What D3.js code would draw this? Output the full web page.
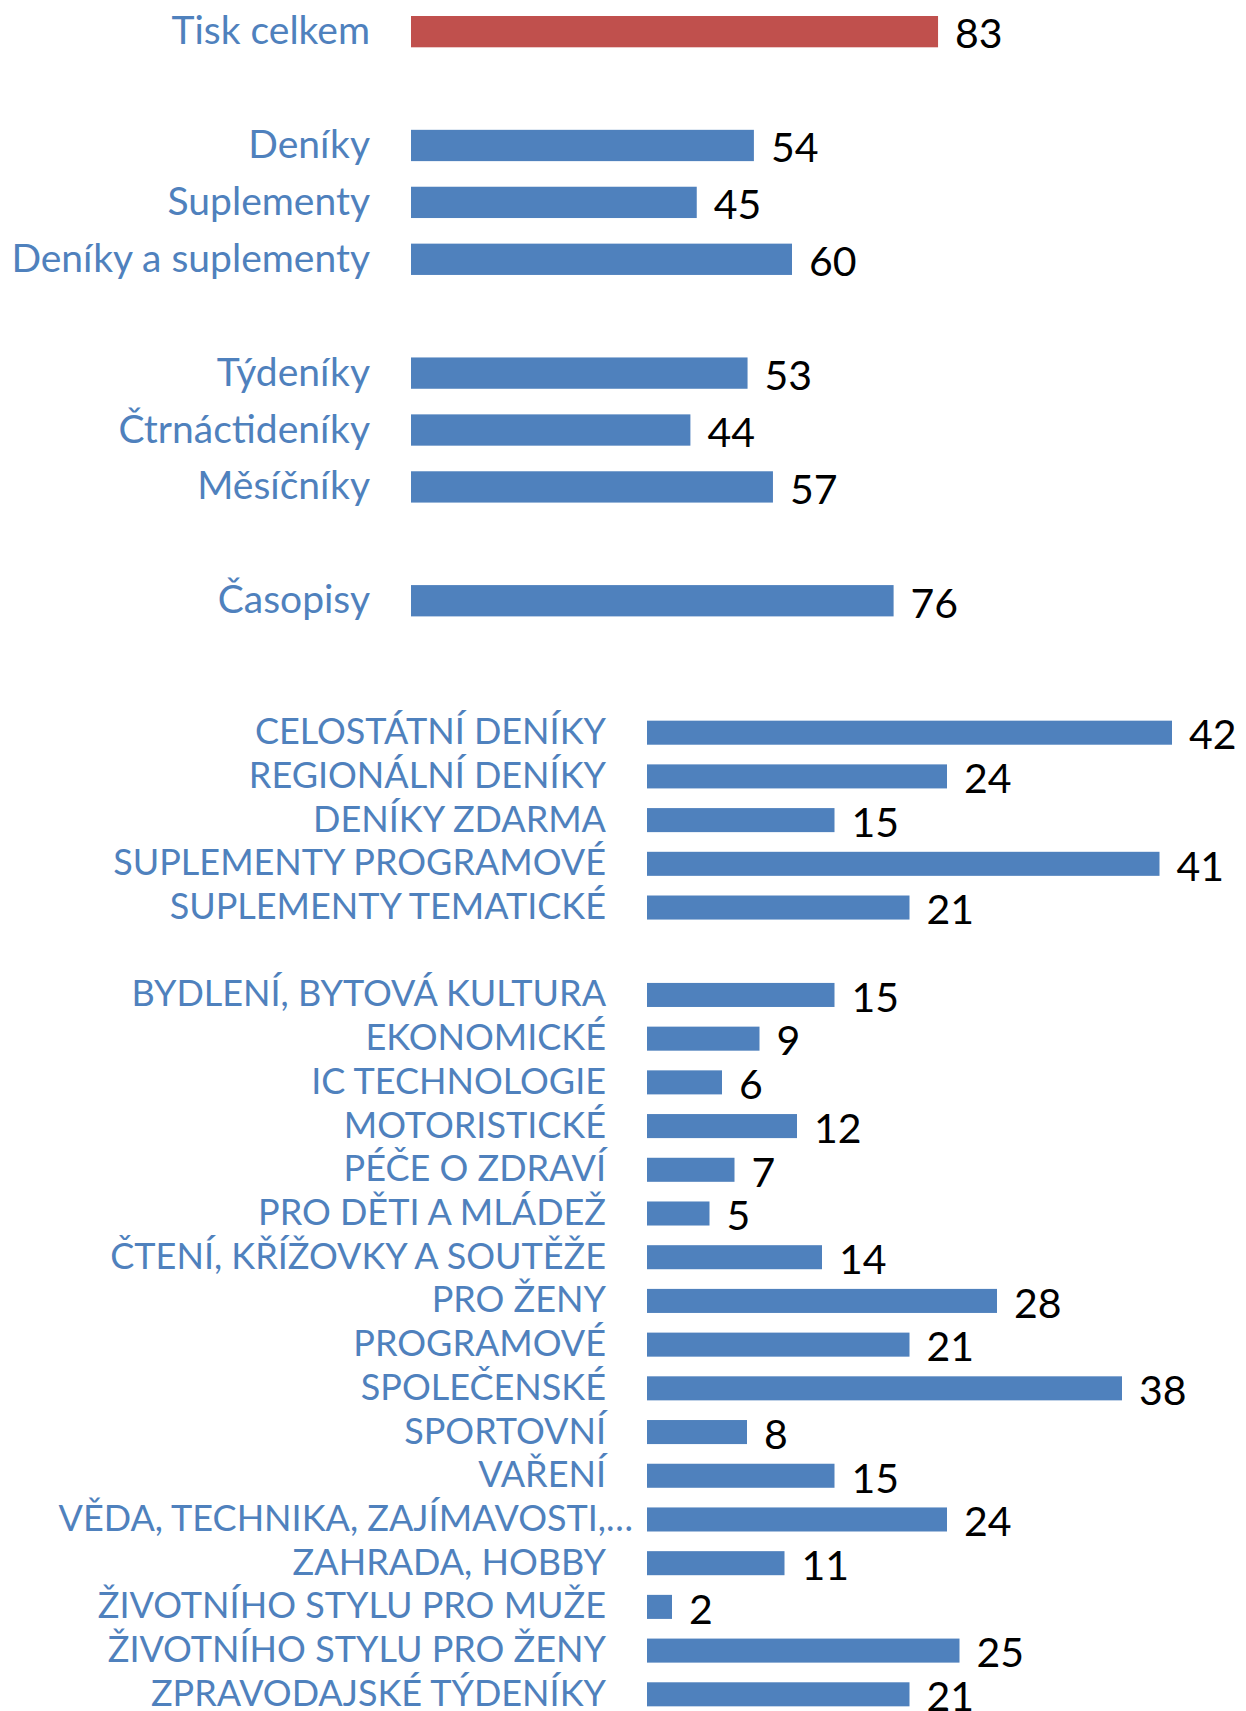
<!DOCTYPE html>
<html>
<head>
<meta charset="utf-8">
<script src="https://cdn.jsdelivr.net/npm/d3@7/dist/d3.min.js"></script>
<style>
  body { margin: 0; background: #fff; }
  .lbl text { font-family: Lato, "Noto Sans", sans-serif; fill: #4F81BD; }
  .val { font-family: Lato, "Noto Sans", sans-serif; fill: #000; }
</style>
</head>
<body>
<svg id="chart" width="1246" height="1711"></svg>
<script>
// top panel (gaps are null)
var topLabels = ["Tisk celkem", "", "Deníky", "Suplementy", "Deníky a suplementy", "",
  "Týdeníky", "Čtrnáctideníky", "Měsíčníky", "", "Časopisy"];
var topValues = [83, null, 54, 45, 60, null, 53, 44, 57, null, 76];

// bottom panel
var bottomLabels = ["CELOSTÁTNÍ DENÍKY", "REGIONÁLNÍ DENÍKY", "DENÍKY ZDARMA",
  "SUPLEMENTY PROGRAMOVÉ", "SUPLEMENTY TEMATICKÉ", "",
  "BYDLENÍ, BYTOVÁ KULTURA", "EKONOMICKÉ", "IC TECHNOLOGIE", "MOTORISTICKÉ",
  "PÉČE O ZDRAVÍ", "PRO DĚTI A MLÁDEŽ", "ČTENÍ, KŘÍŽOVKY A SOUTĚŽE", "PRO ŽENY",
  "PROGRAMOVÉ", "SPOLEČENSKÉ", "SPORTOVNÍ", "VAŘENÍ", "VĚDA, TECHNIKA, ZAJÍMAVOSTI,…",
  "ZAHRADA, HOBBY", "ŽIVOTNÍHO STYLU PRO MUŽE", "ŽIVOTNÍHO STYLU PRO ŽENY",
  "ZPRAVODAJSKÉ TÝDENÍKY"];
var bottomValues = [42, 24, 15, 41, 21, null,
  15, 9, 6, 12, 7, 5, 14, 28, 21, 38, 8, 15, 24, 11, 2, 25, 21];

var blue = "#4F81BD", red = "#C0504D";
var svg = d3.select("#chart");

function panel(labels, values, opt) {
  var idx = d3.range(labels.length);
  var y = d3.scaleBand().domain(idx).range(opt.yRange).padding(0.45);
  var x = d3.scaleLinear().domain(opt.xDomain).range(opt.xRange);

  var g = svg.append("g");

  // category labels through an axis
  var ax = g.append("g").attr("class", "lbl")
    .attr("transform", "translate(" + opt.labelX + ",0)")
    .call(d3.axisLeft(y).tickSize(0).tickPadding(0).tickFormat(function(i){ return labels[i]; }));
  ax.select(".domain").remove();
  ax.selectAll("text").style("font-size", opt.labelSize + "px");
  // truncated label: ellipsis hangs past the label edge
  ax.selectAll(".tick").each(function(i) {
    var s = labels[i];
    if (s.slice(-1) === "…") {
      d3.select(this).select("text").text(s.slice(0, -1));
      d3.select(this).append("text").attr("fill", blue).attr("x", 0).attr("dy", "0.32em")
        .attr("text-anchor", "start").style("font-size", opt.labelSize + "px").text("…");
    }
  });

  var rows = idx.filter(function(i){ return values[i] != null; });

  g.selectAll("rect.bar").data(rows).enter().append("rect")
    .attr("class", "bar")
    .attr("x", x(0))
    .attr("y", function(i){ return y(i); })
    .attr("width", function(i){ return x(values[i]) - x(0); })
    .attr("height", y.bandwidth())
    .attr("fill", function(i){ return opt.highlight === i ? red : blue; });

  g.selectAll("text.val").data(rows).enter().append("text")
    .attr("class", "val")
    .attr("x", function(i){ return x(values[i]) + 17; })
    .attr("y", function(i){ return y(i) + y.bandwidth() / 2 + 2; })
    .attr("dy", "0.36em")
    .style("font-size", opt.valueSize + "px")
    .text(function(i){ return values[i]; });
}

panel(topLabels, topValues, {
  yRange: [-9.6, 642], xDomain: [0, 100], xRange: [411, 1046],
  labelX: 370, labelSize: 39, valueSize: 41, highlight: 0
});

panel(bottomLabels, bottomValues, {
  yRange: [701, 1726], xDomain: [0, 50], xRange: [647, 1272],
  labelX: 606, labelSize: 36, valueSize: 41, highlight: -1
});
</script>
</body>
</html>
